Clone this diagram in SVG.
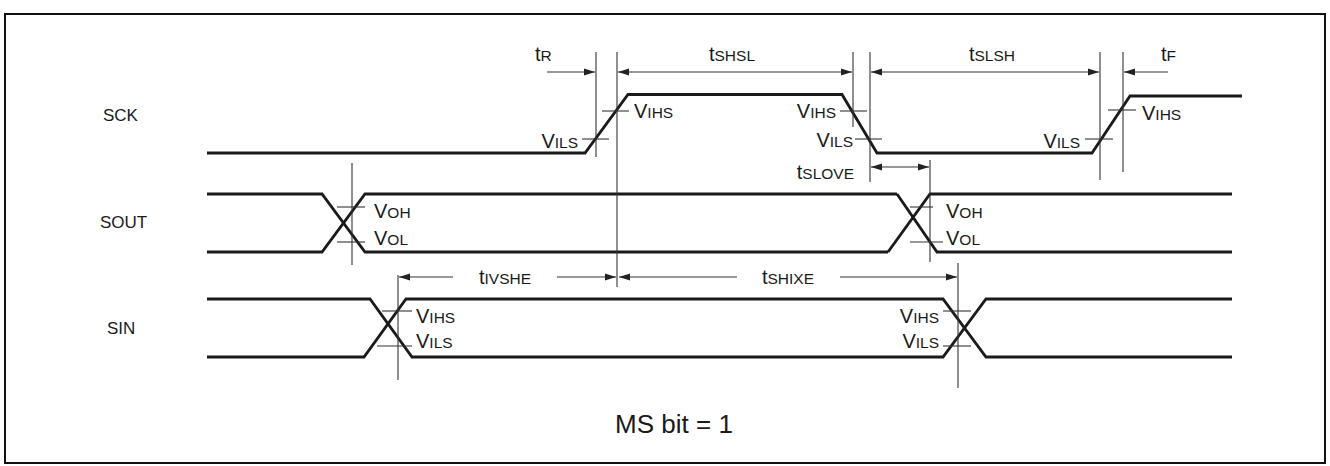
<svg xmlns="http://www.w3.org/2000/svg" width="1330" height="466" viewBox="0 0 1330 466">
<style>
.frame{fill:#fff;stroke:#111;stroke-width:2}
.sig{fill:none;stroke:#1a1a1a;stroke-width:2.8;stroke-linejoin:miter}
.thin{fill:none;stroke:#333;stroke-width:1.1}
.arr{fill:none;stroke:#333;stroke-width:1.1}
text{font-family:"Liberation Sans",Arial,sans-serif;fill:#1a1a1a}
.lbl{font-size:17px}
.big{font-size:20px}
.sm{font-size:15.5px}
.title{font-size:26px}
</style>
<defs>
<marker id="ah" markerUnits="userSpaceOnUse" markerWidth="11" markerHeight="8" refX="11" refY="4" orient="auto-start-reverse" viewBox="0 0 11 8">
<path d="M0,0.5 L11,4 L0,7.5 z" fill="#222"/>
</marker>
</defs>
<rect class="frame" x="5" y="14" width="1320" height="449"/>

<g id="sck">
<text class="lbl" x="103" y="121">SCK</text>
<path class="sig" d="M207,153 H585 L628,94.5 H842 L877,153 H1092 L1130,96 H1242"/>
<line class="thin" x1="602" y1="111" x2="629" y2="111"/>
<line class="thin" x1="582" y1="139" x2="609" y2="139"/>
<line class="thin" x1="840" y1="111" x2="867" y2="111"/>
<line class="thin" x1="855" y1="139" x2="882" y2="139"/>
<line class="thin" x1="1085" y1="139" x2="1113" y2="139"/>
<line class="thin" x1="1108" y1="110" x2="1136" y2="110"/>
<text x="634" y="118"><tspan class="big">V</tspan><tspan class="sm">IHS</tspan></text>
<text x="578" y="148" text-anchor="end"><tspan class="big">V</tspan><tspan class="sm">ILS</tspan></text>
<text x="836" y="118" text-anchor="end"><tspan class="big">V</tspan><tspan class="sm">IHS</tspan></text>
<text x="853" y="147" text-anchor="end"><tspan class="big">V</tspan><tspan class="sm">ILS</tspan></text>
<text x="1080" y="148" text-anchor="end"><tspan class="big">V</tspan><tspan class="sm">ILS</tspan></text>
<text x="1142" y="120"><tspan class="big">V</tspan><tspan class="sm">IHS</tspan></text>
</g>

<g id="sout">
<text class="lbl" x="100" y="228">SOUT</text>
<path class="sig" d="M207,194 H322 L365,252 H888"/>
<path class="sig" d="M207,252 H322 L365,194 H897"/>
<path class="sig" d="M897,194 L937,252 H1232"/>
<path class="sig" d="M888,252 L930,194 H1232"/>
<line class="thin" x1="337" y1="207" x2="365" y2="207"/>
<line class="thin" x1="337" y1="242" x2="365" y2="242"/>
<line class="thin" x1="910" y1="207" x2="933" y2="207"/>
<line class="thin" x1="910" y1="242" x2="943" y2="242"/>
<text x="374" y="218"><tspan class="big">V</tspan><tspan class="sm">OH</tspan></text>
<text x="374" y="245"><tspan class="big">V</tspan><tspan class="sm">OL</tspan></text>
<text x="946" y="218"><tspan class="big">V</tspan><tspan class="sm">OH</tspan></text>
<text x="946" y="245"><tspan class="big">V</tspan><tspan class="sm">OL</tspan></text>
</g>

<g id="sin">
<text class="lbl" x="107" y="334">SIN</text>
<path class="sig" d="M207,299 H370 L412,357 H943 L986,299 H1232"/>
<path class="sig" d="M207,357 H364 L406,299 H943 L986,357 H1232"/>
<line class="thin" x1="382" y1="311" x2="412" y2="311"/>
<line class="thin" x1="377" y1="346" x2="412" y2="346"/>
<line class="thin" x1="943" y1="311" x2="971" y2="311"/>
<line class="thin" x1="943" y1="346" x2="971" y2="346"/>
<text x="416" y="323"><tspan class="big">V</tspan><tspan class="sm">IHS</tspan></text>
<text x="416" y="348"><tspan class="big">V</tspan><tspan class="sm">ILS</tspan></text>
<text x="939" y="323" text-anchor="end"><tspan class="big">V</tspan><tspan class="sm">IHS</tspan></text>
<text x="939" y="348" text-anchor="end"><tspan class="big">V</tspan><tspan class="sm">ILS</tspan></text>
</g>

<g id="connectors">
<line class="thin" x1="596" y1="52" x2="596" y2="157"/>
<line class="thin" x1="617" y1="52" x2="617" y2="287"/>
<line class="thin" x1="853" y1="52" x2="853" y2="127"/>
<line class="thin" x1="870" y1="52" x2="870" y2="182"/>
<line class="thin" x1="1100" y1="52" x2="1100" y2="180"/>
<line class="thin" x1="1123" y1="52" x2="1123" y2="172"/>
<line class="thin" x1="930" y1="160" x2="930" y2="262"/>
<line class="thin" x1="352" y1="163" x2="352" y2="265"/>
<line class="thin" x1="398" y1="275" x2="398" y2="380"/>
<line class="thin" x1="958" y1="263" x2="958" y2="388"/>

<line class="arr" x1="547" y1="72" x2="595" y2="72" marker-end="url(#ah)"/>
<line class="arr" x1="618" y1="72" x2="852" y2="72" marker-start="url(#ah)" marker-end="url(#ah)"/>
<line class="arr" x1="871" y1="72" x2="1099" y2="72" marker-start="url(#ah)" marker-end="url(#ah)"/>
<line class="arr" x1="1168" y1="72" x2="1124" y2="72" marker-end="url(#ah)"/>
<line class="arr" x1="871" y1="167" x2="929" y2="167" marker-start="url(#ah)" marker-end="url(#ah)"/>
<line class="arr" x1="453" y1="277" x2="399" y2="277" marker-end="url(#ah)"/>
<line class="arr" x1="557" y1="277" x2="616" y2="277" marker-end="url(#ah)"/>
<line class="arr" x1="737" y1="277" x2="619" y2="277" marker-end="url(#ah)"/>
<line class="arr" x1="840" y1="277" x2="957" y2="277" marker-end="url(#ah)"/>

<text x="535" y="61"><tspan class="big">t</tspan><tspan class="sm">R</tspan></text>
<text x="732" y="61" text-anchor="middle"><tspan class="big">t</tspan><tspan class="sm">SHSL</tspan></text>
<text x="992" y="61" text-anchor="middle"><tspan class="big">t</tspan><tspan class="sm">SLSH</tspan></text>
<text x="1161" y="61"><tspan class="big">t</tspan><tspan class="sm">F</tspan></text>
<text x="854" y="179" text-anchor="end"><tspan class="big">t</tspan><tspan class="sm">SLOVE</tspan></text>
<text x="505" y="284" text-anchor="middle"><tspan class="big">t</tspan><tspan class="sm">IVSHE</tspan></text>
<text x="788" y="284" text-anchor="middle"><tspan class="big">t</tspan><tspan class="sm">SHIXE</tspan></text>
</g>

<text class="title" x="674" y="433" text-anchor="middle">MS bit = 1</text>
</svg>
